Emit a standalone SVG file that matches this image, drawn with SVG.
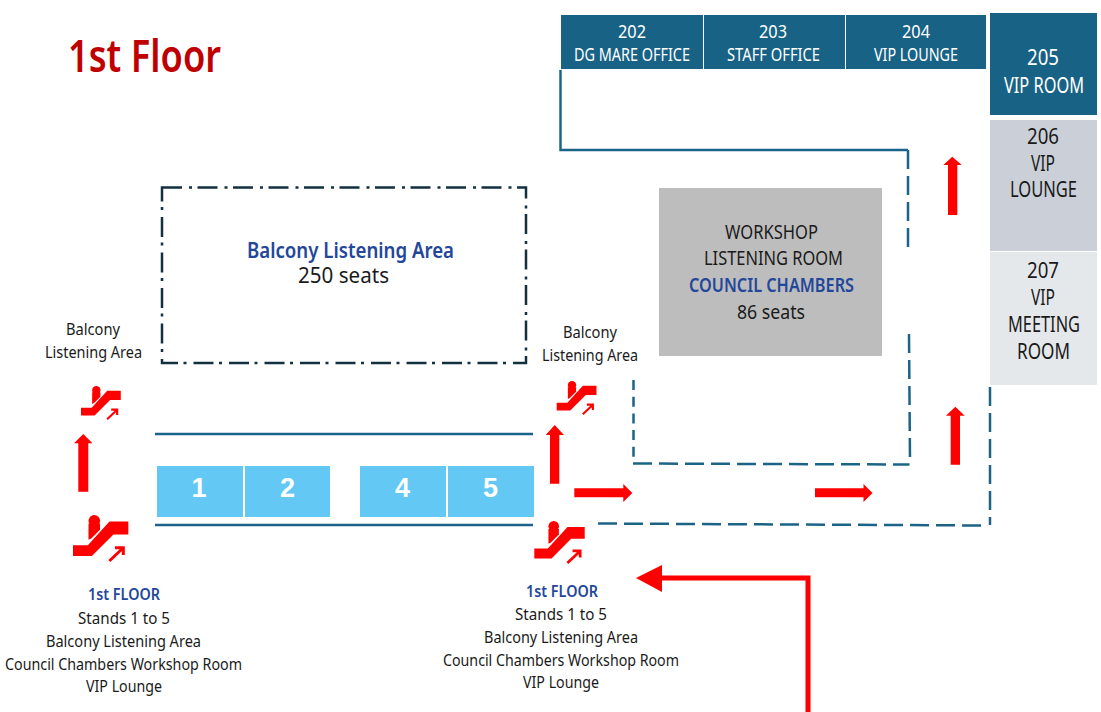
<svg xmlns="http://www.w3.org/2000/svg" width="1101" height="712" viewBox="0 0 1101 712">
<style>
text{font-family:"Noto Sans","Open Sans","Liberation Sans",sans-serif;fill:#1a1a1a}
.s16{font-size:16.5px}
.s18{font-size:18px}
.s19{font-size:19.5px}
.s21{font-size:21px}
.w{fill:#fff}
.b{fill:#23479a;font-weight:600}
.n{font-family:"Liberation Sans",Arial,sans-serif;font-weight:700;font-size:27px;fill:#fff;text-anchor:middle}
.room{fill:#186285}
.stand{fill:#63c9f4}
.wall{fill:none;stroke:#1b6487;stroke-width:2.5}
.dash{stroke-dasharray:19 7}
.dashv{stroke-dasharray:10 6.700}
.red{fill:#f00}
</style>
<defs>
<g id="esc">
<circle class="red" cx="15.800" cy="3.900" r="4.300"/>
<polygon class="red" points="11.500,6 20,6 20,10.500 13.500,17 11.500,18"/>
<polygon class="red" points="0,22 0,30 14,30 30,14 41,14 41,4.500 27,4.500 11,22"/>
<path d="M26.900 33.700L37.300 23.900M31.100 23.900H37.300V29.300" fill="none" stroke="#f00" stroke-width="2.200"/>
</g>
</defs>
<rect width="1101" height="712" fill="#fff"/>
<text id="title" x="68" y="72" font-size="45" font-weight="600" textLength="153" lengthAdjust="spacingAndGlyphs" style="fill:#c00000">1st Floor</text>

<g id="connectors">
<path class="wall" d="M560.500 70V150H908"/>
<path class="wall dash" d="M908 150V247"/>
<path class="wall dashv" d="M633.500 380V461"/>
<path class="wall dash" d="M633 463.500L909.500 464.500"/>
<path class="wall dash" d="M909 334L910 460"/>
<path class="wall dash" d="M598 523.500L984 525.500"/>
<path class="wall dash" d="M990 387V525"/>
<path class="wall" d="M155 434H533M155 525H533"/>
<path d="M162 187.500H526V363H162Z" fill="none" stroke="#12303f" stroke-width="2.500" stroke-dasharray="20 7 3 5.500"/>
<polygon class="red" points="83.300,434 92.500,443.300 88.300,443.300 88.300,491.700 78.300,491.700 78.300,443.300 74,443.300"/>
<polygon class="red" points="554.700,425 564,435 559.300,435 559.300,483.700 550,483.700 550,435 545.700,435"/>
<polygon class="red" points="632.300,493 623.300,484 623.300,488.300 574.300,488.300 574.300,497.300 623.300,497.300 623.300,502"/>
<polygon class="red" points="872.500,493 863.500,484 863.500,488.300 815,488.300 815,497.300 863.500,497.300 863.500,502"/>
<polygon class="red" points="952.300,156.700 961.700,165 957.300,165 957.300,215 948,215 948,165 943.300,165"/>
<polygon class="red" points="955.300,406.700 964.700,415.700 960,415.700 960,464.700 950.700,464.700 950.700,415.700 946,415.700"/>
<path d="M808 712V578H660" fill="none" stroke="#f00" stroke-width="5"/>
<polygon class="red" points="636,578 662,565 662,592"/>
</g>

<g id="room-202"><rect class="room" x="561" y="15" width="142" height="54"/><text class="s18 w" x="618" y="38" textLength="28" lengthAdjust="spacingAndGlyphs">202</text><text class="s18 w" x="574" y="61" textLength="116" lengthAdjust="spacingAndGlyphs">DG MARE OFFICE</text></g>
<g id="room-203"><rect class="room" x="704" y="15" width="141" height="54"/><text class="s18 w" x="759" y="38" textLength="28" lengthAdjust="spacingAndGlyphs">203</text><text class="s18 w" x="727" y="61" textLength="93" lengthAdjust="spacingAndGlyphs">STAFF OFFICE</text></g>
<g id="room-204"><rect class="room" x="846" y="15" width="140" height="54"/><text class="s18 w" x="902" y="38" textLength="28" lengthAdjust="spacingAndGlyphs">204</text><text class="s18 w" x="874" y="61" textLength="84" lengthAdjust="spacingAndGlyphs">VIP LOUNGE</text></g>
<g id="room-205"><rect class="room" x="990" y="13" width="107" height="102"/><text class="s21 w" x="1027" y="65" textLength="32" lengthAdjust="spacingAndGlyphs">205</text><text class="s21 w" x="1004" y="93" textLength="80" lengthAdjust="spacingAndGlyphs">VIP ROOM</text></g>
<g id="room-206"><rect x="990" y="120" width="107" height="131" fill="#cbd0d8"/><text class="s21" x="1027" y="144" textLength="32" lengthAdjust="spacingAndGlyphs">206</text><text class="s21" x="1031" y="171" textLength="24" lengthAdjust="spacingAndGlyphs">VIP</text><text class="s21" x="1010" y="197" textLength="67" lengthAdjust="spacingAndGlyphs">LOUNGE</text></g>
<g id="room-207"><rect x="990" y="252" width="107" height="133" fill="#e5e8eb"/><text class="s21" x="1027" y="278" textLength="32" lengthAdjust="spacingAndGlyphs">207</text><text class="s21" x="1031" y="305" textLength="24" lengthAdjust="spacingAndGlyphs">VIP</text><text class="s21" x="1008" y="332" textLength="72" lengthAdjust="spacingAndGlyphs">MEETING</text><text class="s21" x="1017" y="359" textLength="53" lengthAdjust="spacingAndGlyphs">ROOM</text></g>

<g id="council-chambers"><rect x="659" y="188" width="223" height="168" fill="#bdbdbd"/>
<text class="s19" x="725" y="239" textLength="93" lengthAdjust="spacingAndGlyphs">WORKSHOP</text>
<text class="s19" x="704" y="265" textLength="139" lengthAdjust="spacingAndGlyphs">LISTENING ROOM</text>
<text class="s19 b" x="689" y="292" textLength="165" lengthAdjust="spacingAndGlyphs">COUNCIL CHAMBERS</text>
<text class="s19" x="737" y="319" textLength="68" lengthAdjust="spacingAndGlyphs">86 seats</text></g>

<g id="balcony-area"><text class="s21 b" x="247" y="258" textLength="207" lengthAdjust="spacingAndGlyphs">Balcony Listening Area</text><text class="s21" x="298" y="283" textLength="91" lengthAdjust="spacingAndGlyphs">250 seats</text></g>

<g id="balcony-label-left"><text class="s16" x="66" y="335" textLength="54" lengthAdjust="spacingAndGlyphs">Balcony</text><text class="s16" x="45" y="358" textLength="97" lengthAdjust="spacingAndGlyphs">Listening Area</text></g>
<g id="balcony-label-right"><text class="s16" x="563" y="338" textLength="54" lengthAdjust="spacingAndGlyphs">Balcony</text><text class="s16" x="542" y="361" textLength="96" lengthAdjust="spacingAndGlyphs">Listening Area</text></g>

<g id="stand-1"><rect class="stand" x="157" y="466" width="86" height="51"/><text class="n" x="199" y="497">1</text></g>
<g id="stand-2"><rect class="stand" x="245" y="466" width="85" height="51"/><text class="n" x="287.500" y="497">2</text></g>
<g id="stand-4"><rect class="stand" x="360" y="466" width="86" height="51"/><text class="n" x="402.500" y="497">4</text></g>
<g id="stand-5"><rect class="stand" x="448" y="466" width="86" height="51"/><text class="n" x="490.500" y="497">5</text></g>

<g id="escalator-1"><use href="#esc" transform="translate(81 386.500) scale(.97)"/></g>
<g id="escalator-2"><use href="#esc" transform="translate(73 515.500) scale(1.350)"/></g>
<g id="escalator-3"><use href="#esc" transform="translate(556.700 381.500) scale(.97)"/></g>
<g id="escalator-4"><use href="#esc" transform="translate(534.300 521.500) scale(1.230)"/></g>

<g id="info-left">
<text class="s16 b" x="88" y="600" textLength="72" lengthAdjust="spacingAndGlyphs">1st FLOOR</text>
<text class="s16" x="78" y="624" textLength="92" lengthAdjust="spacingAndGlyphs">Stands 1 to 5</text>
<text class="s16" x="46" y="647" textLength="155" lengthAdjust="spacingAndGlyphs">Balcony Listening Area</text>
<text class="s16" x="5" y="670" textLength="237" lengthAdjust="spacingAndGlyphs">Council Chambers Workshop Room</text>
<text class="s16" x="86" y="692" textLength="76" lengthAdjust="spacingAndGlyphs">VIP Lounge</text>
</g>
<g id="info-right">
<text class="s16 b" x="526" y="597" textLength="72" lengthAdjust="spacingAndGlyphs">1st FLOOR</text>
<text class="s16" x="515" y="620" textLength="92" lengthAdjust="spacingAndGlyphs">Stands 1 to 5</text>
<text class="s16" x="484" y="643" textLength="154" lengthAdjust="spacingAndGlyphs">Balcony Listening Area</text>
<text class="s16" x="443" y="666" textLength="236" lengthAdjust="spacingAndGlyphs">Council Chambers Workshop Room</text>
<text class="s16" x="523" y="688" textLength="76" lengthAdjust="spacingAndGlyphs">VIP Lounge</text>
</g>
</svg>
